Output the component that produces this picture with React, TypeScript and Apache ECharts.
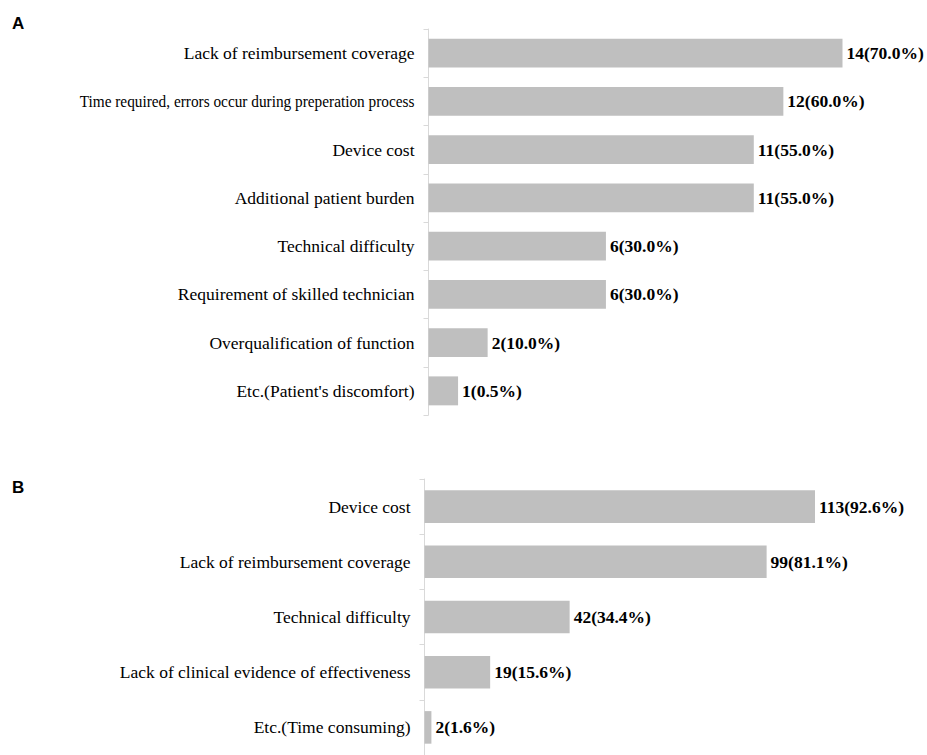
import React, { useEffect, useRef } from "react";
import * as echarts from "echarts";

// Panel A: barriers reported by respondents (n = 20)
const barriersA = [
  "Lack of reimbursement coverage",
  "Time required, errors occur during preperation process",
  "Device cost",
  "Additional patient burden",
  "Technical difficulty",
  "Requirement of skilled technician",
  "Overqualification of function",
  "Etc.(Patient's discomfort)",
];
const countsA = [14, 12, 11, 11, 6, 6, 2, 1];
const percentsA = ["70.0", "60.0", "55.0", "55.0", "30.0", "30.0", "10.0", "0.5"];

// Panel B: barriers reported by respondents (n = 122)
const barriersB = [
  "Device cost",
  "Lack of reimbursement coverage",
  "Technical difficulty",
  "Lack of clinical evidence of effectiveness",
  "Etc.(Time consuming)",
];
const countsB = [113, 99, 42, 19, 2];
const percentsB = ["92.6", "81.1", "34.4", "15.6", "1.6"];

const panelLetters = ["A", "B"];

const SERIF = "Liberation Serif";
const SANS = "Liberation Sans";
const FONT_SIZE = 17.5;
const LABEL_MARGIN = 14;
// very long category names are drawn horizontally condensed so they fit left of the axis
const LONG_LABEL_CHARS = 45;
const CONDENSE = 0.875;

const GRID_A = { left: 428.5, right: 84.5, top: 29, height: 386 };
const GRID_B = { left: 424.5, right: 112, top: 479, height: 283 };

function categoryAxis(gridIndex: number, data: string[]) {
  return {
    type: "category" as const,
    gridIndex,
    data,
    inverse: true,
    boundaryGap: true,
    axisLine: { show: true, lineStyle: { color: "#d9d9d9", width: 1 } },
    axisTick: { show: true, length: 5, alignWithLabel: false, lineStyle: { color: "#d9d9d9" } },
    axisLabel: {
      color: "#000",
      fontFamily: SERIF,
      fontSize: FONT_SIZE,
      margin: LABEL_MARGIN,
      formatter: (v: string) => (v.length > LONG_LABEL_CHARS ? "" : v),
    },
    splitLine: { show: false },
  };
}

function valueAxis(gridIndex: number, max: number) {
  return {
    type: "value" as const,
    gridIndex,
    min: 0,
    max,
    show: false,
    splitLine: { show: false },
  };
}

function barSeries(index: number, counts: number[], percents: string[], barWidth: string) {
  return {
    type: "bar" as const,
    xAxisIndex: index,
    yAxisIndex: index,
    data: counts,
    barWidth,
    itemStyle: { color: "#bfbfbf" },
    label: {
      show: true,
      position: "right" as const,
      distance: 4,
      color: "#000",
      fontFamily: SERIF,
      fontWeight: "bold" as const,
      fontSize: FONT_SIZE,
      formatter: (p: any) => `${counts[p.dataIndex]}(${percents[p.dataIndex]}%)`,
    },
  };
}

export default function App() {
  const ref = useRef<HTMLDivElement>(null);

  useEffect(() => {
    document.body.style.margin = "0";
    if (!ref.current) return;
    const chart = echarts.init(ref.current, null, { renderer: "svg" });
    chart.setOption({
      animation: false,
      backgroundColor: "#fff",
      textStyle: { fontFamily: SERIF },
      grid: [GRID_A, GRID_B],
      xAxis: [valueAxis(0, 14), valueAxis(1, 113)],
      yAxis: [categoryAxis(0, barriersA), categoryAxis(1, barriersB)],
      series: [
        barSeries(0, countsA, percentsA, "60%"),
        barSeries(1, countsB, percentsB, "59%"),
      ],
    });

    // condensed category labels, placed through the category axis scale
    const condensed: any[] = [];
    [
      { names: barriersA, yAxisIndex: 0, left: GRID_A.left },
      { names: barriersB, yAxisIndex: 1, left: GRID_B.left },
    ].forEach(({ names, yAxisIndex, left }) => {
      names.forEach((name) => {
        if (name.length <= LONG_LABEL_CHARS) return;
        const y = chart.convertToPixel({ yAxisIndex }, name) as number;
        condensed.push({
          type: "group",
          x: left - LABEL_MARGIN,
          y,
          scaleX: CONDENSE,
          children: [
            {
              type: "text",
              x: 0,
              y: 0,
              style: {
                text: name,
                fontFamily: SERIF,
                fontSize: FONT_SIZE,
                fill: "#000",
                align: "right",
                verticalAlign: "middle",
              },
            },
          ],
        });
      });
    });

    chart.setOption({
      graphic: [
        {
          type: "text",
          left: 12,
          top: 15,
          style: { text: panelLetters[0], fontFamily: SANS, fontWeight: "bold", fontSize: 17, fill: "#000" },
        },
        {
          type: "text",
          left: 12,
          top: 479,
          style: { text: panelLetters[1], fontFamily: SANS, fontWeight: "bold", fontSize: 17, fill: "#000" },
        },
        ...condensed,
      ],
    });
    return () => chart.dispose();
  }, []);

  return <div ref={ref} style={{ width: 927, height: 755 }} />;
}
